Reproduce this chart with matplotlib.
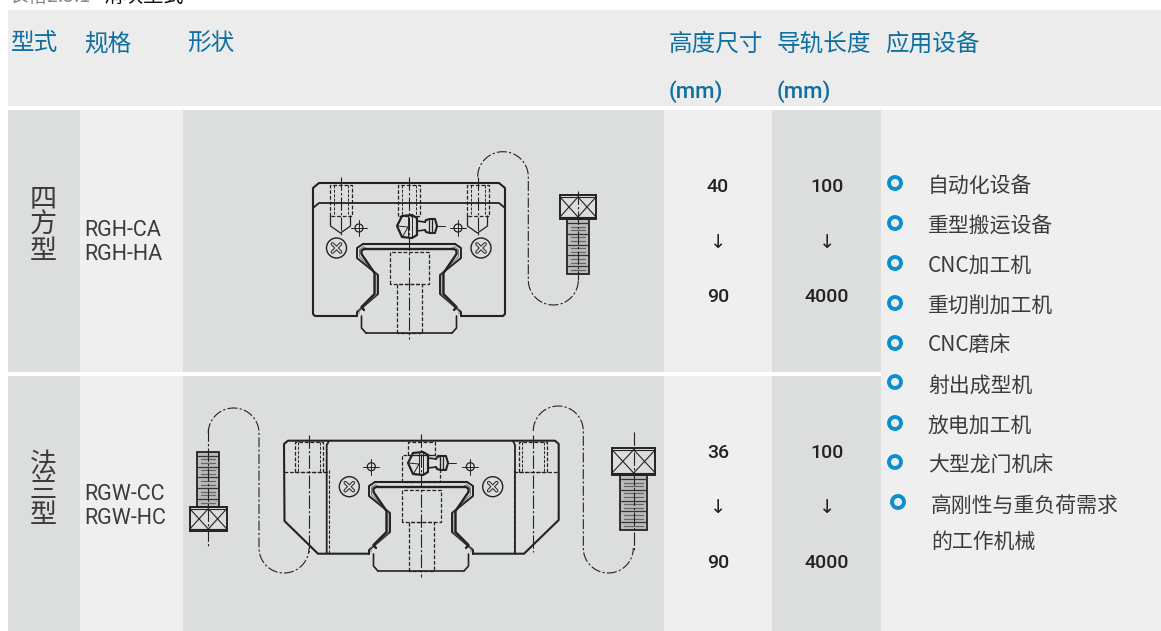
import numpy as np
import matplotlib
matplotlib.use("Agg")
import matplotlib.pyplot as plt
from matplotlib.patches import Rectangle, Circle

plt.rcParams['font.family'] = ['Noto Sans CJK SC', 'DejaVu Sans']

# table contents
header_top = ["型式", "规格", "形状", "高度尺寸", "导轨长度", "应用设备"]
header_x = [11, 84, 187, 669, 777, 885]
unit_labels = ["(mm)", "(mm)"]
type_names = ["四方型", "法兰型"]
spec_names = [["RGH-CA", "RGH-HA"], ["RGW-CC", "RGW-HC"]]
height_range = [["40", "↓", "90"], ["36", "↓", "90"]]
rail_range = [["100", "↓", "4000"], ["100", "↓", "4000"]]
devices = ["自动化设备", "重型搬运设备", "CNC加工机", "重切削加工机", "CNC磨床",
           "射出成型机", "放电加工机", "大型龙门机床", "高刚性与重负荷需求"]
device_last = "的工作机械"

# table geometry, in pixels
col_edges = [8, 79.5, 183, 664, 772, 881, 1161]
col_colors = ["#dcdddd", "#efefef", "#dcdddd", "#efefef", "#dcdddd", "#efefef"]
rows = [(110, 372), (376, 631)]

TEXT = "#3e3a39"
BLUE = "#0f6f9e"
RING = "#0a90d0"
INK = "#222222"

fig = plt.figure(figsize=(11.61, 6.31), dpi=100, facecolor="white")
ax = fig.add_axes([0, 0, 1, 1])
ax.set_xlim(0, 1161)
ax.set_ylim(631, 0)
ax.axis("off")


def line(xs, ys, lw=1.0, ls="-", color=INK, z=3):
    ax.plot(xs, ys, lw=lw, ls=ls, color=color, zorder=z, solid_capstyle="round")


def dashed_rect(x0, y0, x1, y1, lw=0.9):
    line([x0, x0, x1, x1, x0], [y1, y0, y0, y1, y1], lw=lw, ls=(0, (3, 1.5)))


def center_line(xs, ys):
    line(xs, ys, lw=0.8, ls=(0, (12, 2, 2, 2)))


def target(x, y):
    ax.add_patch(Circle((x, y), 4, fill=False, ec=INK, lw=0.9, zorder=3))
    line([x - 8, x + 8], [y, y], lw=0.7)
    line([x, x], [y - 8, y + 8], lw=0.7)


def screw(x, y):
    ax.add_patch(Circle((x, y), 10, fill=False, ec=INK, lw=1.0, zorder=3))
    for s in (1, -1):
        line([x - 4, x + 4], [y - 4 * s, y + 4 * s], lw=2.6)
    for s in (1, -1):
        line([x - 4, x + 4], [y - 4 * s, y + 4 * s], lw=1.2, color="#dcdddd", z=4)


def rail(cx, top):
    # carriage channel and rail profile, mirrored about cx
    ox = np.array([46, 52, 52, 31, 31, 52, 52])
    oy = np.array([0, 4, 14, 31, 50, 68, 72])
    mx = np.array([45, 49.5, 49.5, 33, 33, 50, 50])
    my = np.array([2.5, 5.5, 12.5, 30, 51, 66, 70])
    ix = np.array([44, 47.5, 47.5, 34.5, 34.5, 47.5, 45])
    iy = np.array([4.5, 6.5, 10, 29, 50, 63, 66])
    for s in (1, -1):
        line(cx + s * ox, top + oy, lw=1.4)
        line(cx + s * mx, top + my, lw=0.6, color="#666666")
        line(cx + s * ix, top + iy, lw=1.7)
        line([cx + s * 47.5, cx + s * 47.5, cx + s * 43], [top + 72, top + 84, top + 89], lw=1.2)
    line([cx - 46, cx + 46], [top, top], lw=1.5)
    line([cx - 44, cx + 44], [top + 4.5, top + 4.5], lw=1.7)
    line([cx - 43, cx + 43], [top + 89, top + 89], lw=1.2)
    dashed_rect(cx - 19.5, top + 7.5, cx + 19.5, top + 40)
    dashed_rect(cx - 12.5, top + 40, cx + 12.5, top + 89)


def nipple(x, y):
    # hex body, neck and ball of the grease fitting
    line([x + 12, x + 7, x - 3, x - 8, x - 3, x + 7, x + 12, x + 12],
         [y - 8, y - 11, y - 10, y, y + 11, y + 12, y + 9, y - 8], lw=1.6)
    line([x - 8, x + 3, x - 2], [y, y + 1, y + 10], lw=0.7)
    line([x + 3, x + 3], [y - 10, y + 11], lw=0.7)
    line([x + 7, x + 7], [y - 11, y + 11], lw=0.7)
    line([x + 12, x + 20], [y - 5, y - 4], lw=1.2)
    line([x + 12, x + 20], [y + 5, y + 4], lw=1.2)
    line([x + 20, x + 21, x + 25, x + 30, x + 32, x + 30, x + 25, x + 21, x + 20],
         [y - 4, y - 6, y - 7, y - 7, y, y + 7, y + 7, y + 6, y + 4], lw=1.5)
    line([x + 24, x + 24], [y - 6, y + 6], lw=0.9)
    line([x + 27, x + 27], [y - 6, y + 6], lw=0.9)
    line([x + 32, x + 40], [y, y], lw=0.7)


def bolt(cx, head_y0, head_y1, shank_y0, shank_y1, head_hw, shank_hw, cl0, cl1):
    ax.add_patch(Rectangle((cx - head_hw, head_y0), head_hw * 2, head_y1 - head_y0,
                           fill=False, ec=INK, lw=1.4, zorder=3))
    ax.add_patch(Rectangle((cx - shank_hw, shank_y0), shank_hw * 2, shank_y1 - shank_y0,
                           fill=False, ec=INK, lw=1.3, zorder=3))
    # knurl crosshatch on the head, two crosses side by side
    for x0, x1 in ((cx - head_hw, cx), (cx, cx + head_hw)):
        line([x0, x1], [head_y0 + 2, head_y1 - 2], lw=0.8)
        line([x0, x1], [head_y1 - 2, head_y0 + 2], lw=0.8)
    line([cx - head_hw, cx + head_hw], [head_y0 + 2, head_y0 + 2], lw=0.8)
    line([cx - head_hw, cx + head_hw], [head_y1 - 2, head_y1 - 2], lw=0.8)
    # thread hatching along the shank
    for i, y in enumerate(np.arange(shank_y0 + 4, shank_y1 - 2, 3.6)):
        inset = 1 if i % 3 == 0 else 4
        line([cx - shank_hw + inset, cx + shank_hw - inset], [y, y],
             lw=0.9, color="#333333" if i % 3 == 0 else "#666666")
    ax.add_patch(Rectangle((cx - shank_hw, shank_y0), shank_hw * 2, shank_y1 - shank_y0,
                           fc="#bbbbbb", ec="none", zorder=2))
    center_line([cx, cx], [cl0, cl1])


def wire(x0, x1, x2, y_top, y_bot, r):
    # S shaped dash-dot path from the hole to the bolt
    t1 = np.linspace(np.pi, 2 * np.pi, 40)
    t2 = np.linspace(np.pi, 0, 40)
    xs = np.r_[(x0 + x1) / 2 + (x1 - x0) / 2 * np.cos(t1), (x1 + x2) / 2 + (x2 - x1) / 2 * np.cos(t2)]
    ys = np.r_[y_top + r * np.sin(t1), y_bot + r * np.sin(t2)]
    line(xs, ys, lw=0.8, ls=(0, (9, 2, 2, 2)))


# cells
ax.add_patch(Rectangle((8, 10), 1153, 96, fc="#ececec", ec="none", zorder=1))
for top, bottom in rows:
    for i, c in enumerate(col_colors):
        ax.add_patch(Rectangle((col_edges[i], top), col_edges[i + 1] - col_edges[i], bottom - top,
                               fc=c, ec="none", zorder=1))
ax.add_patch(Rectangle((881, 372), 280, 4, fc="#efefef", ec="none", zorder=1))

# caption, cut off by the top edge
ax.text(8, -4, "表格2.5.1", fontsize=14, color="#888888", va="center", ha="left")
ax.text(103, -4, "滑块型式", fontsize=14.5, color="#111111", va="center", ha="left", fontweight="medium")

# header
for label, x in zip(header_top, header_x):
    ax.text(x, 44, label, fontsize=17, color=BLUE, va="center", ha="left", zorder=5, fontweight="medium")
for label, x in zip(unit_labels, header_x[3:5]):
    ax.text(x, 92, label, fontsize=16, color=BLUE, va="center", ha="left", zorder=5,
            family=["Roboto", "Noto Sans CJK SC"], fontweight="medium")

# body text
type_y = [(199, 225, 251), (464, 490, 516)]
spec_y = [(230, 254), (495, 519)]
value_y = [(187, 243, 297), (453, 508, 563)]
for r in range(2):
    for ch, y in zip(type_names[r], type_y[r]):
        ax.text(43, y, ch, fontsize=19.5, color=TEXT, va="center", ha="center", zorder=5, fontweight="light")
    for name, y in zip(spec_names[r], spec_y[r]):
        ax.text(84, y, name, fontsize=15.5, color=TEXT, va="center", ha="left", zorder=5,
                family=["Roboto", "DejaVu Sans"])
    for a, b, y in zip(height_range[r], rail_range[r], value_y[r]):
        ax.text(718, y, a, fontsize=14, color="#222222", va="center", ha="center", zorder=5,
                family=["Roboto", "DejaVu Sans"], fontweight="medium")
        ax.text(827, y, b, fontsize=14, color="#222222", va="center", ha="center", zorder=5,
                family=["Roboto", "DejaVu Sans"], fontweight="medium")

device_y = [187, 227, 266, 307, 345, 386, 426, 466, 506]
ring_y = [183, 223, 263, 303, 343, 382, 423, 462, 502]
for i, d in enumerate(devices):
    tx, rx = (931, 898) if i == 8 else (928, 895)
    ax.text(tx, device_y[i], d, fontsize=15, color=TEXT, va="center", ha="left", zorder=5, fontweight="light")
    ax.add_patch(Circle((rx, ring_y[i]), 6, fc="none", ec=RING, lw=2.8, zorder=5))
ax.text(931, 542, device_last, fontsize=15, color=TEXT, va="center", ha="left", zorder=5, fontweight="light")

# --- square block ---
cx = 409
line([cx - 52, 315, 313, 313, 319, 499, 505, 505, 503, cx + 52],
     [316, 316, 314, 188, 183, 183, 188, 314, 316, 316], lw=1.5)
line([313, 319, 499, 505], [208, 203, 203, 208], lw=1.3)
for hx in (340.5, 409, 477.5):
    dashed_rect(hx - 11, 185, hx + 11, 216, lw=0.9)
    line([hx - 7, hx - 7], [185, 216], lw=0.7, ls=(0, (3, 1.5)))
    line([hx + 7, hx + 7], [185, 216], lw=0.7, ls=(0, (3, 1.5)))
for hx in (340.5, 477.5):
    line([hx - 10, hx - 10, hx, hx + 10, hx + 10], [216, 226, 233, 226, 216], lw=0.9)
    center_line([hx, hx], [177, 235])
center_line([cx, cx], [177, 339])
target(359, 228)
target(458, 228)
screw(336.5, 248)
screw(481, 248)
rail(cx, 244)
nipple(405, 226)
wire(477.7, 528.3, 578.3, 176.7, 280, 25)
bolt(578, 195, 219, 219, 274, 18, 11, 191, 280)

# --- flange block ---
cx = 421
line([cx - 52, 318, 284.5, 284, 288, 555, 558.7, 558.7, 524, cx + 52],
     [553.7, 553.7, 521, 444, 440.7, 440.7, 444, 520, 553.7, 553.7], lw=1.5)
line([326.7, 326.7, 329], [553, 445, 441], lw=1.3)
line([515, 515, 513], [553, 445, 441], lw=1.3)
line([328.5, 328.5], [470, 553], lw=0.8, ls=(0, (3, 1.5)))
line([513.5, 513.5], [470, 553], lw=0.8, ls=(0, (3, 1.5)))
line([284, 328], [472, 472], lw=0.9, ls=(0, (3, 1.5)))
line([514, 558], [472, 472], lw=0.9, ls=(0, (3, 1.5)))
for hx in (308.7, 533.3):
    dashed_rect(hx - 14, 442, hx + 14, 472)
    line([hx - 11, hx - 11], [442, 472], lw=0.7, ls=(0, (3, 1.5)))
    line([hx + 11, hx + 11], [442, 472], lw=0.7, ls=(0, (3, 1.5)))
    center_line([hx, hx], [435, 552])
dashed_rect(cx - 13.5, 442, cx + 13.5, 455)
dashed_rect(cx - 19, 455, cx + 19, 482)
center_line([cx, cx], [434, 577])
target(371.3, 466.7)
target(470.3, 466.7)
screw(349.3, 486.7)
screw(492.7, 486.7)
rail(cx, 482)
nipple(416, 463)
wire(208.3, 259, 309, 433, 548, 25)
wire(533.3, 583.3, 633.3, 431, 548, 25)
bolt(208.3, 506.7, 531, 451.7, 506.7, 18.5, 11, 428, 548)
bolt(633.7, 447.7, 475, 475, 530, 21.7, 13.7, 432, 550)

fig.savefig("out.png", dpi=100, facecolor="white")
